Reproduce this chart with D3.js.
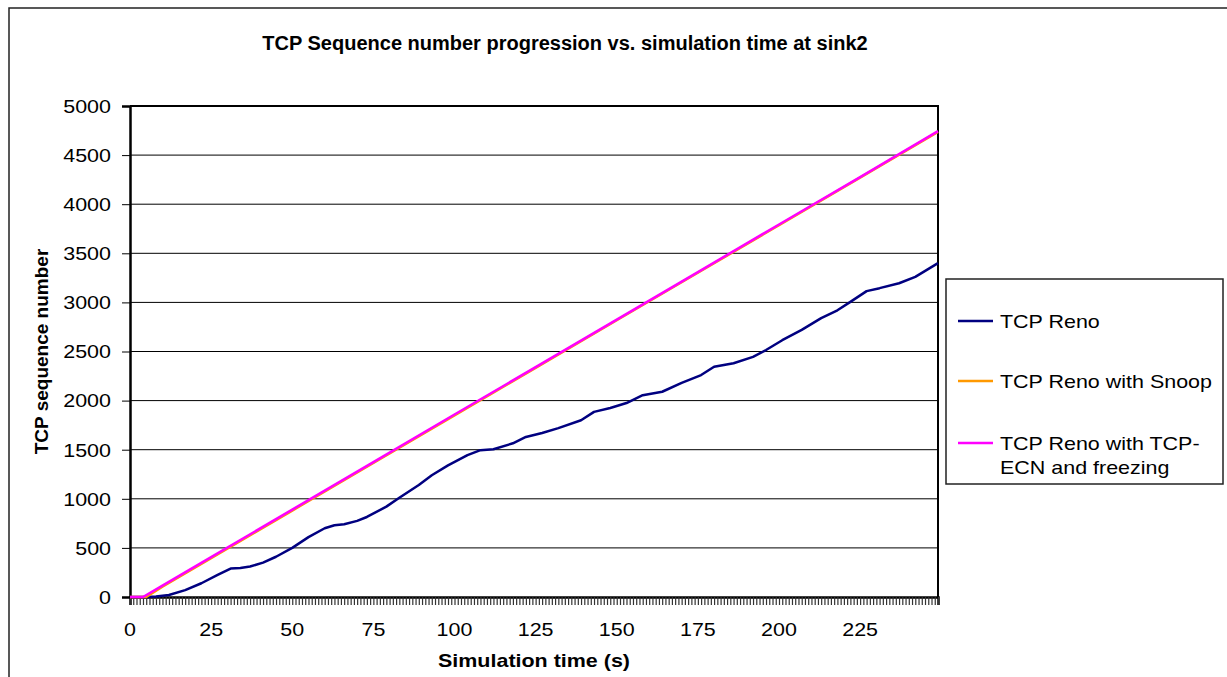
<!DOCTYPE html>
<html>
<head>
<meta charset="utf-8">
<script src="https://cdn.jsdelivr.net/npm/d3@7"></script>
<style>
  html, body { margin: 0; padding: 0; background: #ffffff; }
  svg { display: block; font-family: "Liberation Sans", Arial, sans-serif; }
</style>
</head>
<body>
<svg id="chart" width="1227" height="677"></svg>
<script>
// ---------- data ----------
const chartTitle = "TCP Sequence number progression vs. simulation time at sink2";
const xTitle = "Simulation time (s)";
const yTitle = "TCP sequence number";
const categories = d3.range(0, 250);            // simulation time categories 0..249 s
const xTickLabels = [0, 25, 50, 75, 100, 125, 150, 175, 200, 225];
const yTickLabels = [0, 500, 1000, 1500, 2000, 2500, 3000, 3500, 4000, 4500, 5000];
const seriesNames = ["TCP Reno", "TCP Reno with Snoop", "TCP Reno with TCP-ECN and freezing"];
const seriesColors = ["#000080", "#FF9900", "#FF00FF"];

const renoT = [0, 5, 8, 12, 17, 22, 27, 31, 34, 37, 41, 45, 50, 55, 60, 63, 66, 70, 73, 79, 83, 89, 93, 98, 104, 108, 112, 118, 122, 127, 132, 139, 143, 148, 153, 158, 164, 170, 176, 180, 186, 192, 196, 201, 207, 213, 218, 222, 227, 231, 237, 242, 249];
const renoV = [0, 0, 5, 20, 70, 140, 225, 290, 295, 310, 350, 410, 500, 610, 700, 730, 740, 775, 815, 920, 1010, 1140, 1240, 1340, 1445, 1495, 1505, 1565, 1630, 1670, 1720, 1800, 1885, 1925, 1975, 2055, 2090, 2180, 2260, 2345, 2380, 2445, 2515, 2615, 2720, 2840, 2920, 3005, 3115, 3145, 3195, 3260, 3400];

const snoopT = [0, 5, 10, 25, 50, 75, 100, 125, 150, 175, 200, 225, 249];
const snoopV = [0, 0, 104, 396, 880, 1365, 1850, 2333, 2818, 3302, 3786, 4270, 4736];

const ecnT = [0, 4, 10, 25, 50, 75, 100, 125, 150, 175, 200, 225, 249];
const ecnV = [0, 0, 116, 406, 890, 1374, 1858, 2341, 2825, 3309, 3793, 4276, 4744];

// ---------- layout ----------
const svg = d3.select("#chart");
const W = 1227, H = 677;
const plot = { left: 130, right: 938, top: 106, bottom: 597 };
const SX = 1.13; // horizontal stretch of the reference text

const x = d3.scaleLinear().domain([0, 249]).range([plot.left, plot.right]);
const y = d3.scaleLinear().domain([0, 5000]).range([plot.bottom, plot.top]);

// chart-area border (extends beyond the crop on right/bottom)
svg.append("path")
  .attr("d", `M9,${H + 5} L9,8 L${W + 5},8`)
  .attr("fill", "none").attr("stroke", "#222").attr("stroke-width", 1.5);

// title
svg.append("text")
  .attr("transform", `translate(565,50)`)
  .attr("text-anchor", "middle")
  .attr("font-weight", "bold").attr("font-size", 20)
  .text(chartTitle);

// gridlines
svg.append("g").selectAll("line")
  .data(yTickLabels.filter(v => v > 0 && v < 5000))
  .join("line")
  .attr("x1", plot.left).attr("x2", plot.right)
  .attr("y1", d => y(d)).attr("y2", d => y(d))
  .attr("stroke", "#000").attr("stroke-width", 1);

// plot area border (top + right)
svg.append("path")
  .attr("d", `M${plot.left},${plot.top} L${plot.right},${plot.top} L${plot.right},${plot.bottom}`)
  .attr("fill", "none").attr("stroke", "#000").attr("stroke-width", 2);

// y axis
const yAxis = d3.axisLeft(y).tickValues(yTickLabels).tickSize(8).tickFormat("");
const gy = svg.append("g").attr("transform", `translate(${plot.left},0)`).call(yAxis);
gy.select(".domain").attr("stroke", "#000").attr("stroke-width", 2.5);
gy.selectAll(".tick line").attr("stroke", "#000").attr("stroke-width", 1);
svg.append("g").selectAll("text")
  .data(yTickLabels)
  .join("text")
  .attr("transform", d => `translate(111,${y(d)}) scale(${SX},1)`)
  .attr("text-anchor", "end").attr("dy", "0.36em")
  .attr("font-size", 19).attr("fill", "#000")
  .text(d => d);

// x axis with one tick per category
const xAxis = d3.axisBottom(x).tickValues(categories).tickSize(8).tickFormat("");
const gx = svg.append("g").attr("transform", `translate(0,${plot.bottom})`).call(xAxis);
gx.select(".domain").attr("stroke", "#000").attr("stroke-width", 2.5);
gx.selectAll(".tick line").attr("stroke", "#333").attr("stroke-width", 1.2);
svg.append("g").selectAll("text")
  .data(xTickLabels)
  .join("text")
  .attr("transform", d => `translate(${x(d)},636) scale(${SX},1)`)
  .attr("text-anchor", "middle")
  .attr("font-size", 19).attr("fill", "#000")
  .text(d => d);

// axis titles
svg.append("text")
  .attr("transform", `translate(${(plot.left + plot.right) / 2},667) scale(${SX},1)`)
  .attr("text-anchor", "middle").attr("font-weight", "bold").attr("font-size", 19)
  .text(xTitle);
svg.append("text")
  .attr("transform", `translate(48,${(plot.top + plot.bottom) / 2}) rotate(-90)`)
  .attr("text-anchor", "middle").attr("font-weight", "bold").attr("font-size", 19)
  .text(yTitle);

// series lines
const line = d3.line().x(d => x(d[0])).y(d => y(d[1]));
const series = [
  { t: renoT, v: renoV, c: seriesColors[0] },
  { t: snoopT, v: snoopV, c: seriesColors[1] },
  { t: ecnT, v: ecnV, c: seriesColors[2] }
];
series.forEach(s => {
  svg.append("path")
    .datum(s.t.map((t, i) => [t, s.v[i]]))
    .attr("d", line)
    .attr("fill", "none").attr("stroke", s.c).attr("stroke-width", 2.5)
    .attr("stroke-linejoin", "round");
});

// legend
const lg = svg.append("g");
lg.append("rect")
  .attr("x", 946).attr("y", 279).attr("width", 277).attr("height", 205)
  .attr("fill", "#fff").attr("stroke", "#222").attr("stroke-width", 1.5);
const legendRows = [
  { lines: ["TCP Reno"], yc: 321 },
  { lines: ["TCP Reno with Snoop"], yc: 381 },
  { lines: ["TCP Reno with TCP-", "ECN and freezing"], yc: 443 }
];
legendRows.forEach((r, i) => {
  lg.append("line")
    .attr("x1", 958).attr("x2", 993).attr("y1", r.yc).attr("y2", r.yc)
    .attr("stroke", seriesColors[i]).attr("stroke-width", 2.5);
  r.lines.forEach((txt, k) => {
    lg.append("text")
      .attr("transform", `translate(1000,${r.yc + k * 24}) scale(${SX},1)`)
      .attr("dy", "0.36em").attr("font-size", 19).attr("fill", "#000")
      .text(txt);
  });
});
</script>
</body>
</html>
